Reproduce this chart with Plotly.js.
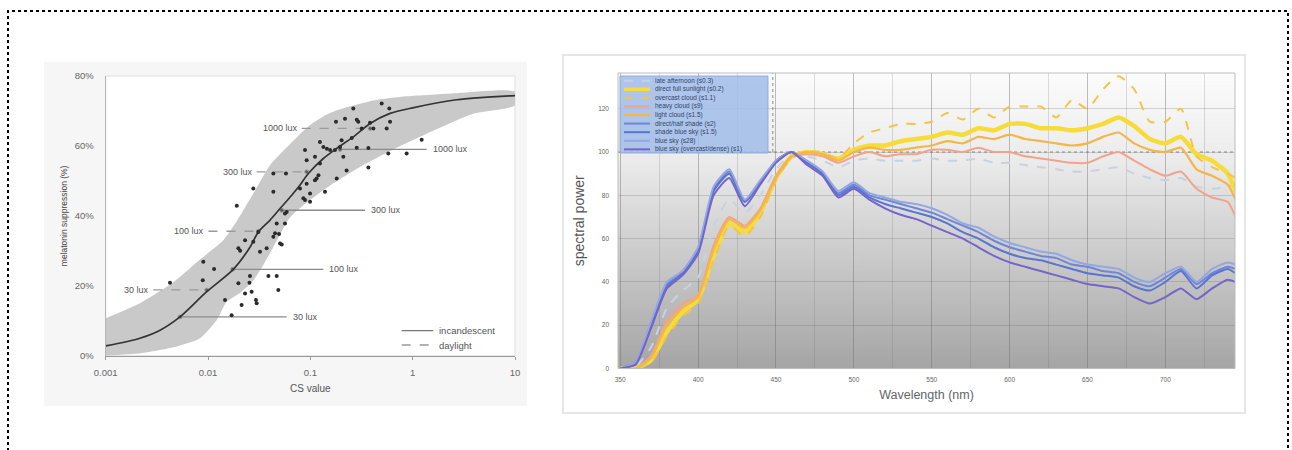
<!DOCTYPE html>
<html><head><meta charset="utf-8">
<script src="https://cdn.plot.ly/plotly-3.0.1.min.js"></script>
<style>html,body{margin:0;padding:0;background:#fff}#chart{width:1292px;height:450px}</style>
</head><body><div id="chart"></div>
<script>
// ---------- LEFT CHART DATA (melatonin suppression vs CS) ----------
const curveCS  = [0.001,0.00216,0.0034,0.00532,0.0097,0.01766,0.0258,0.031,0.0404,0.0506,0.0658,0.0793,0.0955,0.134,0.181,0.263,0.384,0.601,1.0,2.69,10];
const curvePct = [2.8,5.0,7.3,11.1,18.3,24.7,31.1,35.4,38.8,42.1,45.9,48.8,52.1,56.4,59.3,62.6,66.4,69.3,70.9,73.2,74.4];

const bandUpperCS  = [0.001,0.00216,0.00458,0.00836,0.0141,0.0191,0.0277,0.0404,0.0682,0.0993,0.1445,0.195,0.413,0.873,2.69,10];
const bandUpperPct = [10.7,15,21,27.5,33,38.5,46.4,54.5,61.5,66,69,70.5,73,74.2,75.1,75.5];
const bandLowerCS  = [0.001,0.0022,0.0046,0.00836,0.01217,0.0152,0.0206,0.0277,0.0404,0.0633,0.0993,0.168,0.305,0.645,1.37,3.92,10];
const bandLowerPct = [0,0.7,2.4,5.0,10.2,15.4,18,21.5,29.3,39.5,44.5,49.3,54,59,63.5,69.2,71.6];

const obsCS  = [0.263,0.498,0.591,0.178,0.218,0.284,0.294,0.383,0.413,0.557,0.601,0.318,0.254,0.202,0.195,0.174,0.210,0.156,0.145,0.134,
                1.224,0.578,0.873,0.369,0.284,0.226,0.181,0.369,0.139,0.111,0.124,0.092,0.115,0.120,0.111,0.092,0.0792,0.0993,0.0887,0.0993,
                0.0855,0.0887,0.124,0.0578,0.0435,0.0277,0.0435,0.0191,0.0587,0.0565,0.0469,0.0565,0.0452,0.0494,0.0435,0.0506,0.0525,0.031,0.0277,0.0230,
                0.0198,0.0206,0.0374,0.0322,0.0257,0.0389,0.0469,0.0198,0.0254,0.00899,0.01146,0.00888,0.00425,0.01466,0.0213,0.0230,0.0267,0.0294,0.0299,0.0486,0.0170];
const obsPct = [70.7,72.1,70.7,66.9,67.8,67.5,66.9,66.6,65.0,65.0,66.9,65.0,62.3,61.6,59.7,58.8,56.9,58.8,59.2,59.7,
                61.8,57.8,57.8,59.4,59.5,53.0,50.7,53.8,46.9,56.9,55.0,55.9,50.7,51.6,50.2,49.2,47.8,46.4,44.5,44.0,
                45.0,58.8,61.1,52.1,52.1,47.8,46.9,42.9,41.1,40.7,37.8,37.8,35.0,34.8,34.0,32.1,31.8,35.4,32.6,33.0,
                30.7,30.0,30.7,29.7,22.8,22.8,22.8,20.7,20.9,26.9,24.8,21.6,20.9,15.9,14.5,17.8,18.3,15.9,15.0,18.8,11.6];

const luxLabels       = ["30 lux","100 lux","300 lux","1000 lux"];
const incandPct       = [11.1,24.7,41.6,59];
const incandCurveCS   = [0.00532,0.0174,0.0525,0.195];
const incandLabelCS   = [0.0587,0.134,0.342,1.37];
const daylightPct     = [18.8,35.6,52.6,65];
const daylightLabelCS = [0.00292,0.0101,0.0298,0.0822];
const daylightCurveCS = [0.0097,0.031,0.092,0.383];

const csTicks    = [0.001,0.01,0.1,1,10];
const csTickTxt  = ["0.001","0.01","0.1","1","10"];
const pctTicks   = [0,20,40,60,80];
const pctTickTxt = ["0%","20%","40%","60%","80%"];

// ---------- RIGHT CHART DATA (spectral power) ----------
const wavelength = [350,360,370,380,390,400,410,420,430,440,450,460,470,480,490,500,510,520,530,540,550,560,570,580,590,600,610,620,630,640,650,660,670,680,690,700,710,720,730,740,745];
const spLateAfternoon = [0,1,10,28,36,42,66,78,72,80,92,99,98,96,93,96,97,96,96,96,97,96,96,97,95,95,94,93,92,91,91,92,93,90,88,87,88,84,83,84,85];
const spSunlight      = [0,0,4,17,26,32,52,67,63,72,88,98,100,99,97,101,103,103,105,106,107,109,108,111,110,113,113,111,111,110,111,113,116,112,106,104,107,99,96,90,82];
const spOvercast      = [0,0,3,15,24,30,50,66,61,70,87,97,100,100,97,104,109,111,113,113,114,118,115,120,116,121,121,121,116,124,120,129,135,129,114,114,120,98,93,90,88];
const spHeavyCloud    = [0,0,6,22,30,34,57,70,66,74,89,98,99,98,95,98,100,98,99,99,101,101,100,102,100,100,98,97,96,95,95,98,100,96,92,89,91,83,79,77,70];
const spLightCloud    = [0,0,5,20,28,33,55,69,65,73,88,98,100,99,96,100,102,101,101,102,103,105,104,107,106,108,106,105,104,103,104,107,109,104,101,100,102,92,89,85,78];
const spHalfShade     = [0,3,21,39,45,55,83,91,77,86,96,100,95,90,81,85,80,78,76,74,72,69,66,63,59,56,54,52,51,48,47,45,44,40,38,42,46,39,44,47,46];
const spShadeBlueSky  = [0,2,20,38,44,54,82,90,77,86,96,100,95,90,80,84,79,76,74,72,70,67,63,60,56,53,51,50,48,46,44,43,42,38,36,40,45,37,43,46,44];
const spBlueSky       = [0,3,22,40,45,56,84,92,78,87,96,100,96,91,82,86,81,79,77,76,74,71,67,65,61,58,56,54,53,50,48,47,46,42,40,44,47,40,46,49,48];
const spBlueSkyDense  = [0,2,19,37,43,53,80,88,75,85,95,100,94,89,79,83,78,74,71,69,66,63,60,56,52,49,47,45,43,41,39,38,37,33,30,33,37,32,37,41,40];

const seriesNames = ["late afternoon (s0.3)","direct full sunlight (s0.2)","overcast cloud (s1.1)","heavy cloud (s9)","light cloud (s1.5)",
                     "direct/half shade (s2)","shade blue sky (s1.5)","blue sky (s28)","blue sky (overcast/dense) (s1)"];
const seriesData  = [spLateAfternoon,spSunlight,spOvercast,spHeavyCloud,spLightCloud,spHalfShade,spShadeBlueSky,spBlueSky,spBlueSkyDense];
const wlTicks = [350,400,450,500,550,600,650,700];
const spTicks = [0,20,40,60,80,100,120];

// ---------- STYLES ----------
const seriesStyle = [
  {color:'#c8d2de', width:2,   dash:'dash'},
  {color:'#f6dc3a', width:4.5, dash:'solid'},
  {color:'#f3c44a', width:2,   dash:'dash'},
  {color:'#f1a48c', width:2,   dash:'solid'},
  {color:'#f2b649', width:2.2, dash:'solid'},
  {color:'#6f86d6', width:2,   dash:'solid'},
  {color:'#5a74d0', width:2,   dash:'solid'},
  {color:'#93a7e2', width:2,   dash:'solid'},
  {color:'#7466c8', width:2,   dash:'solid'}
];
const FONT = 'Liberation Sans, Arial, sans-serif';
const W = 1292, H = 450;
const px = x => x / W, py = y => 1 - y / H;

const L = {x0:105.7, x1:515, y0:76, y1:355.7};   // left plot area (px)
const R = {x0:618, x1:1235, y0:73, y1:368.5};    // right plot area (px)

const traces = [];
// band
traces.push({x: bandUpperCS.concat(bandLowerCS.slice().reverse()),
             y: bandUpperPct.concat(bandLowerPct.slice().reverse()),
             xaxis:'x', yaxis:'y', mode:'lines', fill:'toself', fillcolor:'#c9c9c9',
             line:{width:0, shape:'spline', smoothing:0.6}, hoverinfo:'skip', showlegend:false});
// lux lines
for (let i = 0; i < luxLabels.length; i++) {
  traces.push({x:[incandCurveCS[i], incandLabelCS[i]], y:[incandPct[i], incandPct[i]], xaxis:'x', yaxis:'y',
               mode:'lines+markers', line:{color:'#8c8c8c', width:1.3}, marker:{size:[4,0], color:'#333'},
               name:'incandescent', showlegend:false});
  traces.push({x:[daylightLabelCS[i], daylightCurveCS[i]], y:[daylightPct[i], daylightPct[i]], xaxis:'x', yaxis:'y',
               mode:'lines+markers', line:{color:'#9a9a9a', width:1.3, dash:'dash'}, marker:{size:[0,4], color:'#333'},
               name:'daylight', showlegend:false});
}
// central curve
traces.push({x:curveCS, y:curvePct, xaxis:'x', yaxis:'y', mode:'lines',
             line:{color:'#333', width:1.7, shape:'spline', smoothing:0.8}, showlegend:false});
// observations
traces.push({x:obsCS, y:obsPct, xaxis:'x', yaxis:'y', mode:'markers',
             marker:{size:4, color:'#2b2b2b', symbol:'circle'}, showlegend:false});

// spectra: warm first, blue after
for (let i = 0; i < seriesData.length; i++) {
  const s = seriesStyle[i];
  traces.push({x:wavelength, y:seriesData[i], xaxis:'x2', yaxis:'y2', mode:'lines', name:seriesNames[i],
               line:{color:s.color, width:s.width, dash:s.dash, shape:'spline', smoothing:0.55}, showlegend:false});
}

// background gradient for the right plot
const cv = document.createElement('canvas'); cv.width = 4; cv.height = 256;
const ctx = cv.getContext('2d'); const g = ctx.createLinearGradient(0,0,0,256);
g.addColorStop(0,'#fcfcfc'); g.addColorStop(0.3,'#ebebeb'); g.addColorStop(0.65,'#c8c8c8'); g.addColorStop(1,'#a5a5a5');
ctx.fillStyle = g; ctx.fillRect(0,0,4,256);

const shapes = [
  // dotted page border
  {type:'rect', xref:'paper', yref:'paper', x0:px(8), x1:px(1288), y0:py(470), y1:py(11), line:{color:'#000', width:2, dash:'dot'}, layer:'below'},
  // left panel
  {type:'rect', xref:'paper', yref:'paper', x0:px(44), x1:px(527), y0:py(406), y1:py(62), fillcolor:'#f6f6f6', line:{width:0}, layer:'below'},
  {type:'rect', xref:'paper', yref:'paper', x0:px(L.x0), x1:px(L.x1), y0:py(L.y1), y1:py(L.y0), fillcolor:'#fff', line:{color:'#e0e0e0', width:1}, layer:'below'},
  // right panel border
  {type:'rect', xref:'paper', yref:'paper', x0:px(563), x1:px(1245), y0:py(413), y1:py(55), line:{color:'#e6e6e6', width:2}, layer:'below'},
  // reference crosshair at normalisation
  {type:'line', xref:'x2', yref:'y2', x0:348.6, x1:744.7, y0:100, y1:100, line:{color:'#8a8a8a', width:1, dash:'dot'}, layer:'below'},
  {type:'line', xref:'x2', yref:'y2', x0:448, x1:448, y0:100, y1:136.5, line:{color:'#8a8a8a', width:1, dash:'dot'}, layer:'below'},
  // right plot frame
  {type:'rect', xref:'paper', yref:'paper', x0:px(R.x0), x1:px(R.x1), y0:py(R.y1), y1:py(R.y0), line:{color:'#bdbdbd', width:1}, layer:'above'},
  // right legend box
  {type:'rect', xref:'paper', yref:'paper', x0:px(620), x1:px(768), y0:py(153), y1:py(76), fillcolor:'rgba(160,188,232,0.85)', line:{color:'rgba(140,170,220,0.9)', width:1}, layer:'above'}
];
const annotations = [];
// lux labels
for (let i = 0; i < luxLabels.length; i++) {
  annotations.push({xref:'x', yref:'y', x:Math.log10(incandLabelCS[i]), y:incandPct[i], text:luxLabels[i], showarrow:false,
                    xanchor:'left', xshift:4, font:{family:FONT, size:9, color:'#555'}});
  annotations.push({xref:'x', yref:'y', x:Math.log10(daylightLabelCS[i]), y:daylightPct[i], text:luxLabels[i], showarrow:false,
                    xanchor:'right', xshift:-2, font:{family:FONT, size:9, color:'#555'}});
}
// left legend
const leftLeg = [{name:'incandescent', dash:'solid', color:'#777'}, {name:'daylight', dash:'dash', color:'#9a9a9a'}];
leftLeg.forEach((e, i) => {
  const y = 330.7 + i * 14.3;
  shapes.push({type:'line', xref:'paper', yref:'paper', x0:px(401.7), x1:px(433.3), y0:py(y), y1:py(y), line:{color:e.color, width:1.3, dash:e.dash}, layer:'above'});
  annotations.push({xref:'paper', yref:'paper', x:px(437), y:py(y), text:e.name, showarrow:false, xanchor:'left', yanchor:'middle',
                    font:{family:FONT, size:9.5, color:'#555'}});
});
// right legend
seriesNames.forEach((n, i) => {
  const y = 80.7 + i * 8.58, s = seriesStyle[i];
  shapes.push({type:'line', xref:'paper', yref:'paper', x0:px(624), x1:px(650), y0:py(y), y1:py(y),
               line:{color:s.color, width:Math.min(s.width, 3.5), dash:s.dash}, layer:'above'});
  annotations.push({xref:'paper', yref:'paper', x:px(653), y:py(y), text:n, showarrow:false, xanchor:'left', yanchor:'middle',
                    font:{family:FONT, size:6.5, color:'#34446a'}});
});

const layout = {
  width:W, height:H, margin:{l:0, r:0, t:0, b:0}, paper_bgcolor:'#fff', plot_bgcolor:'rgba(0,0,0,0)',
  showlegend:false, font:{family:FONT},
  xaxis:{domain:[px(L.x0), px(L.x1)], type:'log', range:[-3, 1], tickmode:'array', tickvals:csTicks, ticktext:csTickTxt,
         showgrid:false, zeroline:false, showline:true, linecolor:'#9a9a9a', linewidth:1.5, ticks:'outside', ticklen:3, tickcolor:'#9a9a9a',
         tickfont:{family:FONT, size:9.5, color:'#666'}, ticklabelstandoff:4,
         title:{text:'CS value', font:{family:FONT, size:10, color:'#555'}, standoff:8}},
  yaxis:{domain:[py(L.y1), py(L.y0)], range:[0, 80], tickmode:'array', tickvals:pctTicks, ticktext:pctTickTxt,
         showgrid:false, zeroline:false, showline:true, linecolor:'#b5b5b5', linewidth:1, ticks:'',
         tickfont:{family:FONT, size:9.5, color:'#666'}, ticklabelstandoff:9,
         title:{text:'melatonin suppression (%)', font:{family:FONT, size:8.5, color:'#444'}, standoff:5}},
  xaxis2:{domain:[px(R.x0), px(R.x1)], range:[348.6, 744.7], tickmode:'array', tickvals:wlTicks, anchor:'y2',
          showgrid:true, gridcolor:'rgba(110,110,110,0.28)', gridwidth:1, zeroline:false, showline:false, ticks:'',
          minor:{dtick:25, tick0:350, showgrid:true, gridcolor:'rgba(110,110,110,0.22)'},
          tickfont:{family:FONT, size:6.5, color:'#666'}, ticklabelstandoff:6,
          title:{text:'Wavelength (nm)', font:{family:FONT, size:12.5, color:'#666'}, standoff:8}},
  yaxis2:{domain:[py(R.y1), py(R.y0)], range:[0, 136.5], tickmode:'array', tickvals:spTicks, anchor:'x2',
          showgrid:true, gridcolor:'rgba(110,110,110,0.28)', zeroline:false, showline:false, ticks:'',
          tickfont:{family:FONT, size:6.5, color:'#666'}, ticklabelstandoff:8,
          title:{text:'spectral power', font:{family:FONT, size:14, color:'#555'}, standoff:10}},
  images:[{source:cv.toDataURL(), xref:'paper', yref:'paper', x:px(R.x0), y:py(R.y0), sizex:px(R.x1)-px(R.x0), sizey:py(R.y0)-py(R.y1),
           xanchor:'left', yanchor:'top', sizing:'stretch', layer:'below'}],
  shapes:shapes, annotations:annotations
};
Plotly.newPlot('chart', traces, layout, {displayModeBar:false, staticPlot:true});
</script></body></html>
